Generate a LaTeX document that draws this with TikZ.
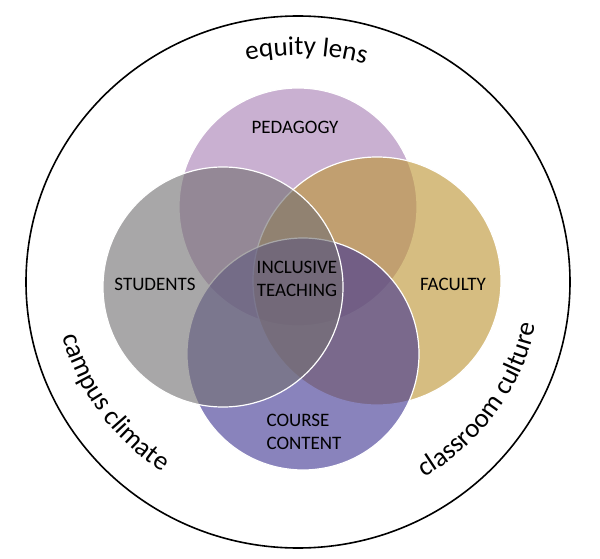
\documentclass[tikz,border=0pt]{standalone}
\usepackage{fontspec}
\setmainfont{Carlito}
\usetikzlibrary{decorations.text}
\definecolor{pedc}{RGB}{168,128,182}
\definecolor{stuc}{RGB}{116,113,115}
\definecolor{facc}{RGB}{189,150,53}
\definecolor{couc}{RGB}{66,55,147}
\newcommand{\ringfont}{\fontsize{27}{30}\selectfont}
\begin{document}
\begin{tikzpicture}[x=1pt,y=1pt,
  venn/.style={fill opacity=0.62, draw=white, line width=1.2pt},
  lab/.style={font=\fontsize{19}{23}\selectfont, text=black, align=center, inner sep=0pt},
  ringtext/.style={decorate, decoration={text along path, text align=center, text={|\ringfont|#1}}}]
\useasboundingbox (0,0) rectangle (600,-559);
\fill[white] (0,0) rectangle (600,-559);
\coordinate (C) at (298,-282);
\draw[black, line width=1.6pt] (C) ellipse [x radius=272, y radius=266];
\draw[venn, fill=pedc] (298,-207) circle[radius=119];
\draw[venn, fill=facc] (377,-281) circle[radius=124];
\draw[venn, fill=couc] (303,-354) circle[radius=116];
\draw[venn, fill=stuc] (223,-287) circle[radius=120];
\node[lab] (ped) at (295,-127) {PEDAGOGY};
\node[lab] (stu) at (155,-284) {STUDENTS};
\node[lab] (fac) at (453,-284) {FACULTY};
\node[lab] (inc) at (297,-279) {INCLUSIVE\\TEACHING};
\node[lab, align=left] (cou) at (304,-432) {COURSE\\CONTENT};
\path[ringtext={equity lens}] (C) ++(118:240 and 227) arc[start angle=118, end angle=58, x radius=240, y radius=227];
\path[ringtext={campus climate}] (C) ++(179.5:242 and 229) arc[start angle=179.5, end angle=249.5, x radius=242, y radius=229];
\path[ringtext={classroom culture}] (C) ++(290.6:242 and 229) arc[start angle=290.6, end angle=360.6, x radius=242, y radius=229];
\end{tikzpicture}
\end{document}
